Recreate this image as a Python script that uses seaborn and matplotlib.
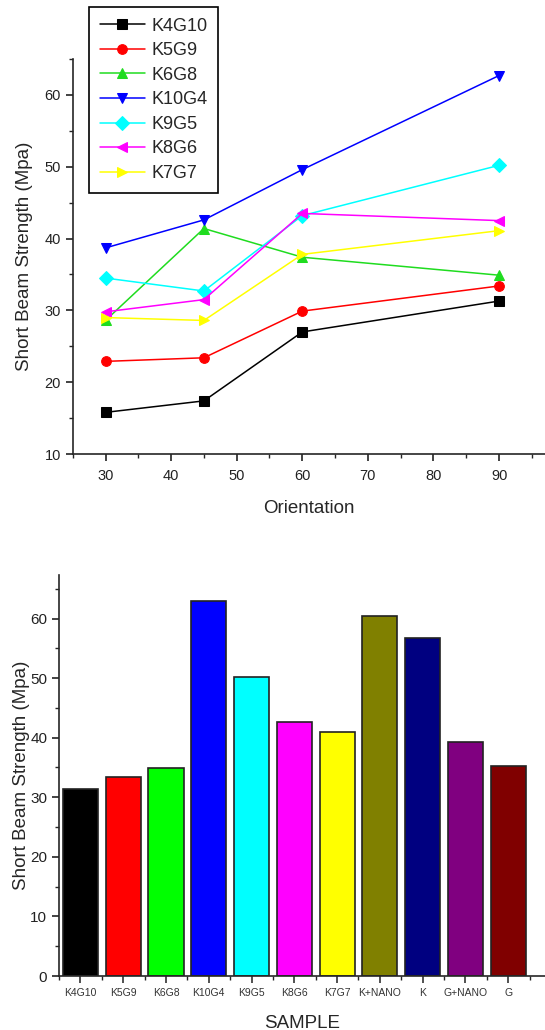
import numpy as np
import pandas as pd
import matplotlib
matplotlib.use('Agg')
import matplotlib.pyplot as plt
import seaborn as sns
from matplotlib.ticker import MultipleLocator, FixedLocator

# line chart data
orientation = [30, 45, 60, 90]
k4g10 = [15.8, 17.4, 27.0, 31.3]
k5g9 = [22.9, 23.4, 29.9, 33.4]
k6g8 = [28.6, 41.4, 37.4, 34.9]
k10g4 = [38.7, 42.6, 49.6, 62.7]
k9g5 = [34.5, 32.7, 43.2, 50.2]
k8g6 = [29.8, 31.5, 43.5, 42.5]
k7g7 = [29.0, 28.6, 37.8, 41.1]
line_names = ['K4G10', 'K5G9', 'K6G8', 'K10G4', 'K9G5', 'K8G6', 'K7G7']
line_colors = ['#000000', '#ff0000', '#1fdc1f', '#0000ff', '#00ffff', '#ff00ff', '#ffff00']
line_markers = ['s', 'o', '^', 'v', 'D', '<', '>']

# bar chart data
samples = ['K4G10', 'K5G9', 'K6G8', 'K10G4', 'K9G5', 'K8G6', 'K7G7',
           'K+NANO', 'K', 'G+NANO', 'G']
strength = [31.4, 33.4, 34.9, 62.9, 50.2, 42.6, 41.0, 60.4, 56.8, 39.2, 35.2]
bar_colors = ['#000000', '#ff0000', '#00ff00', '#0000ff', '#00ffff', '#ff00ff',
              '#ffff00', '#808000', '#000080', '#800080', '#800000']

sns.set_style('ticks')
plt.rcParams['font.family'] = ['Liberation Sans', 'DejaVu Sans']
plt.rcParams['axes.linewidth'] = 1.2

fig = plt.figure(figsize=(5.45, 10.3), dpi=100)
ax1 = fig.add_axes([0.1334, 0.5592, 0.8666, 0.3835])
ax2 = fig.add_axes([0.1083, 0.0524, 0.8917, 0.3893])

series = [k4g10, k5g9, k6g8, k10g4, k9g5, k8g6, k7g7]
for name, vals, c, m in zip(line_names, series, line_colors, line_markers):
    sns.lineplot(x=orientation, y=vals, ax=ax1, color=c, marker=m, markersize=7,
                 markeredgecolor=c, linewidth=1.1, label=name)

ax1.set_xlim(25, 97)
ax1.set_ylim(10, 65)
ax1.xaxis.set_major_locator(MultipleLocator(10))
ax1.xaxis.set_minor_locator(MultipleLocator(5))
ax1.yaxis.set_major_locator(MultipleLocator(10))
ax1.yaxis.set_minor_locator(MultipleLocator(5))
ax1.set_yticks([10, 20, 30, 40, 50, 60])
ax1.tick_params(which='major', length=5, width=1.2, labelsize=10.5, colors='#222222')
ax1.tick_params(axis='x', which='major', pad=6)
ax1.tick_params(which='minor', length=3, width=1.0)
ax1.set_xlabel('Orientation', fontsize=13.5, labelpad=12)
ax1.set_ylabel('Short Beam Strength (Mpa)', fontsize=13.5, labelpad=8)
sns.despine(ax=ax1)
leg = ax1.legend(loc='upper left', bbox_to_anchor=(0.1633, 0.9935),
                 bbox_transform=fig.transFigure, fontsize=13, frameon=True,
                 fancybox=False, framealpha=1, edgecolor='black',
                 handlelength=2.5, handletextpad=0.35, labelspacing=0.42,
                 borderpad=0.6, borderaxespad=0)
leg.get_frame().set_linewidth(1.2)

sns.barplot(x=samples, y=strength, hue=samples, palette=bar_colors, ax=ax2,
            legend=False, width=0.82, edgecolor='#222222', linewidth=1.2,
            saturation=1)
ax2.set_xlim(-0.5, 10.86)
ax2.set_ylim(0, 67.3)
ax2.yaxis.set_major_locator(MultipleLocator(10))
ax2.yaxis.set_minor_locator(MultipleLocator(5))
ax2.xaxis.set_minor_locator(FixedLocator(np.arange(-0.5, 11, 1)))
ax2.tick_params(axis='y', which='major', length=5, width=1.2, labelsize=11, colors='#222222')
ax2.tick_params(axis='x', which='major', length=5, width=1.2, labelsize=7.5, colors='#333333')
ax2.tick_params(which='minor', length=3, width=1.0)
ax2.set_xlabel('SAMPLE', fontsize=13.5, labelpad=12)
ax2.set_ylabel('Short Beam Strength (Mpa)', fontsize=13.5, labelpad=0)
sns.despine(ax=ax2)

fig.savefig('out.png', dpi=100)
